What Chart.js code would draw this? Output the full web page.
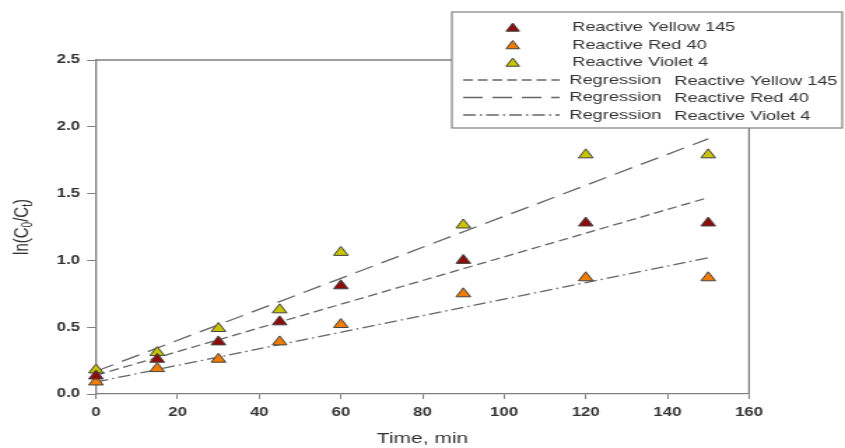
<!DOCTYPE html>
<html>
<head>
<meta charset="utf-8">
<script src="https://cdn.jsdelivr.net/npm/chart.js@4.4.1/dist/chart.umd.min.js"></script>
<style>
    body { margin: 0; background: #fff; overflow: hidden; }
    /* the reference is stretched sideways, so the whole chart is drawn narrow and widened */
    #wrap { width: 604px; height: 448px; transform: scaleX(1.399); transform-origin: 0 0; }
</style>
</head>
<body>
<div id="wrap"><canvas id="chart" width="604" height="448"></canvas></div>
<script>
const times = [0, 15, 30, 45, 60, 90, 120, 150];
const yellow145 = [0.135, 0.26, 0.39, 0.54, 0.81, 1.00, 1.28, 1.28];
const red40 = [0.09, 0.19, 0.26, 0.39, 0.52, 0.75, 0.87, 0.87];
const violet4 = [0.18, 0.31, 0.49, 0.63, 1.06, 1.265, 1.79, 1.79];

// regression end points at t = 0 and t = 150, named after their legend entries
const regTimes = [0, 150];
const regYellow145 = [0.14, 1.47];
const regRed40 = [0.17, 1.91];
const regViolet4 = [0.09, 1.02];

const xTicks = [0, 20, 40, 60, 80, 100, 120, 140, 160];
const yTicks = [0.0, 0.5, 1.0, 1.5, 2.0, 2.5];

const fontFamily = "'Liberation Sans', Arial, sans-serif";
const textColor = '#333';
const axisColor = '#808080';

function points(xs, ys) {
    return xs.map((x, i) => ({ x: x, y: ys[i] }));
}

function markerSet(label, ys, color) {
    return {
        label: label,
        data: points(times, ys),
        pointStyle: 'triangle',
        pointRadius: 6,
        backgroundColor: color,
        borderColor: '#444',
        borderWidth: 1,
        showLine: false,
        clip: false
    };
}

function regressionSet(label, ys, dash) {
    return {
        type: 'line',
        label: label,
        data: points(regTimes, ys),
        borderColor: '#666',
        borderWidth: 1.3,
        borderDash: dash,
        pointRadius: 0,
        fill: false
    };
}

// top and right sides of the frame
const framePlugin = {
    id: 'frame',
    beforeDatasetsDraw(chart) {
        const a = chart.chartArea;
        const ctx = chart.ctx;
        ctx.save();
        ctx.strokeStyle = axisColor;
        ctx.lineWidth = 1.3;
        ctx.beginPath();
        ctx.moveTo(a.left, a.top);
        ctx.lineTo(a.right, a.top);
        ctx.lineTo(a.right, a.bottom);
        ctx.stroke();
        ctx.restore();
    }
};

// y title with subscripts: ln(C0/Ct)
const yTitlePlugin = {
    id: 'yTitle',
    afterDraw(chart) {
        const a = chart.chartArea;
        const ctx = chart.ctx;
        const parts = [['ln(C', false], ['0', true], ['/C', false], ['t', true], [')', false]];
        const big = '15px ' + fontFamily;
        const small = '10px ' + fontFamily;
        ctx.save();
        ctx.translate(16, (a.top + a.bottom) / 2);
        ctx.rotate(-Math.PI / 2);
        ctx.fillStyle = textColor;
        ctx.textBaseline = 'middle';
        ctx.textAlign = 'left';
        let total = 0;
        parts.forEach(p => {
            ctx.font = p[1] ? small : big;
            total += ctx.measureText(p[0]).width;
        });
        let x = -total / 2;
        parts.forEach(p => {
            ctx.font = p[1] ? small : big;
            ctx.fillText(p[0], x, p[1] ? 4 : 0);
            x += ctx.measureText(p[0]).width;
        });
        ctx.restore();
    }
};

// boxed legend in the top right corner
const legendPlugin = {
    id: 'boxLegend',
    afterDraw(chart) {
        const ctx = chart.ctx;
        const box = { left: 323, top: 12, right: 602, bottom: 128 };
        ctx.save();
        ctx.fillStyle = '#fff';
        ctx.fillRect(box.left, box.top, box.right - box.left, box.bottom - box.top);
        ctx.strokeStyle = axisColor;
        ctx.lineWidth = 1.2;
        ctx.strokeRect(box.left, box.top, box.right - box.left, box.bottom - box.top);

        ctx.font = '13px ' + fontFamily;
        ctx.fillStyle = textColor;
        ctx.textBaseline = 'middle';
        ctx.textAlign = 'left';

        chart.data.datasets.forEach((ds, i) => {
            const y = 27.5 + i * 17.5;
            if (ds.type === 'line') {
                ctx.strokeStyle = ds.borderColor;
                ctx.lineWidth = ds.borderWidth;
                ctx.setLineDash(ds.borderDash);
                ctx.beginPath();
                ctx.moveTo(331, y);
                ctx.lineTo(400, y);
                ctx.stroke();
                ctx.setLineDash([]);
                const words = ds.label.split(' ');
                ctx.fillStyle = textColor;
                ctx.fillText(words[0], 407, y);
                ctx.fillText(words.slice(1).join(' '), 482, y + 1);
            } else {
                ctx.fillStyle = ds.backgroundColor;
                ctx.strokeStyle = ds.borderColor;
                ctx.lineWidth = 1;
                Chart.helpers.drawPoint(ctx, { pointStyle: 'triangle', radius: 5.5, borderWidth: 1, rotation: 0 }, 366.5, y + 1);
                ctx.fillStyle = textColor;
                ctx.fillText(ds.label, 409, y);
            }
        });
        ctx.restore();
    }
};

const ctx = document.getElementById('chart').getContext('2d');
const myChart = new Chart(ctx, {
    type: 'scatter',
    data: {
        datasets: [
            markerSet('Reactive Yellow 145', yellow145, '#8e0b0b'),
            markerSet('Reactive Red 40', red40, '#f07c00'),
            markerSet('Reactive Violet 4', violet4, '#c9c400'),
            regressionSet('Regression Reactive Yellow 145', regYellow145, [7, 3.5]),
            regressionSet('Regression Reactive Red 40', regRed40, [14, 7]),
            regressionSet('Regression Reactive Violet 4', regViolet4, [9, 3, 1.5, 3])
        ]
    },
    options: {
        responsive: false,
        animation: false,
        devicePixelRatio: 1,
        layout: {
            padding: { top: 60, right: 68.6, left: 0, bottom: 0 }
        },
        plugins: {
            legend: { display: false },
            tooltip: { enabled: false }
        },
        scales: {
            x: {
                type: 'linear',
                min: 0,
                max: 160,
                afterFit: scale => { scale.height = 54; },
                afterBuildTicks: scale => { scale.ticks = xTicks.map(v => ({ value: v })); },
                grid: { drawOnChartArea: false, tickLength: 5, color: axisColor, tickWidth: 1 },
                border: { color: axisColor, width: 1.3 },
                ticks: {
                    padding: 6,
                    color: textColor,
                    font: { family: fontFamily, size: 12, weight: 'bold' }
                },
                title: {
                    display: true,
                    text: 'Time, min',
                    color: textColor,
                    padding: { top: 0, bottom: 0 },
                    font: { family: fontFamily, size: 15 }
                }
            },
            y: {
                min: 0,
                max: 2.5,
                afterFit: scale => { scale.width = 68.6; },
                afterBuildTicks: scale => { scale.ticks = yTicks.map(v => ({ value: v })); },
                grid: { drawOnChartArea: false, tickLength: 6.4, color: axisColor, tickWidth: 1 },
                border: { color: axisColor, width: 1.3 },
                ticks: {
                    padding: 5,
                    color: textColor,
                    font: { family: fontFamily, size: 12, weight: 'bold' },
                    callback: v => v.toFixed(1)
                }
            }
        }
    },
    plugins: [framePlugin, yTitlePlugin, legendPlugin]
});
</script>
</body>
</html>
